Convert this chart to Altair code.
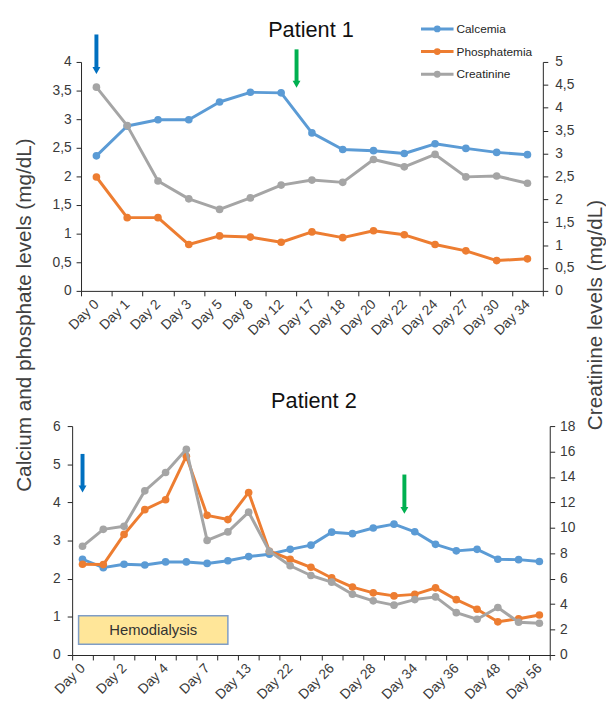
import json
import altair as alt
import pandas as pd

# ---------------- data ----------------
series_names = ["Calcemia", "Phosphatemia", "Creatinine"]
series_colors = ["#5B9BD5", "#ED7D31", "#A5A5A5"]

# Patient 1
p1_days = ["Day 0", "Day 1", "Day 2", "Day 3", "Day 5", "Day 8", "Day 12",
           "Day 17", "Day 18", "Day 20", "Day 22", "Day 24", "Day 27", "Day 30", "Day 34"]
p1_calcemia = [2.36, 2.88, 2.99, 2.99, 3.30, 3.47, 3.46, 2.76, 2.47, 2.45, 2.40, 2.57, 2.49, 2.42, 2.38]
p1_phosphatemia = [1.99, 1.28, 1.28, 0.81, 0.96, 0.94, 0.85, 1.03, 0.93, 1.05, 0.98, 0.81, 0.70, 0.53, 0.56]
p1_creatinine = [4.45, 3.61, 2.40, 2.01, 1.78, 2.03, 2.31, 2.42, 2.37, 2.87, 2.71, 2.98, 2.49, 2.51, 2.35]
p1_left_ticks = [0, 0.5, 1, 1.5, 2, 2.5, 3, 3.5, 4]
p1_right_ticks = [0, 0.5, 1, 1.5, 2, 2.5, 3, 3.5, 4, 4.5, 5]

# Patient 2 (23 measurements, every other one labelled on the axis)
p2_day_labels = ["Day 0", "Day 2", "Day 4", "Day 7", "Day 13", "Day 22",
                 "Day 26", "Day 28", "Day 34", "Day 36", "Day 48", "Day 56"]
p2_calcemia = [2.51, 2.29, 2.38, 2.36, 2.44, 2.44, 2.40, 2.47, 2.58, 2.64, 2.77, 2.88,
               3.22, 3.18, 3.33, 3.43, 3.23, 2.90, 2.73, 2.77, 2.51, 2.50, 2.45]
p2_phosphatemia = [2.38, 2.37, 3.16, 3.81, 4.07, 5.21, 3.66, 3.55, 4.26, 2.72, 2.51, 2.30,
                   2.02, 1.78, 1.63, 1.55, 1.59, 1.76, 1.45, 1.20, 0.87, 0.95, 1.05]
p2_creatinine = [8.55, 9.88, 10.12, 12.91, 14.35, 16.17, 9.01, 9.68, 11.23, 8.16, 7.02, 6.25,
                 5.73, 4.78, 4.26, 3.92, 4.36, 4.57, 3.33, 2.81, 3.74, 2.58, 2.50]
p2_left_ticks = [0, 1, 2, 3, 4, 5, 6]
p2_right_ticks = [0, 2, 4, 6, 8, 10, 12, 14, 16, 18]

# arrows (x = measurement index, y on the left axis)
arrow_colors = ["#0070C0", "#00B050"]
p1_arrow_x = [0, 6.5]
p1_arrow_top = [4.48, 4.22]
p1_arrow_tip = [3.79, 3.55]
p2_arrow_x = [0, 15.5]
p2_arrow_top = [5.27, 4.73]
p2_arrow_tip = [4.26, 3.70]

# hemodialysis box (patient 2, left axis units)
hemo_label = "Hemodialysis"
hemo_x = [-0.19, 7.0]
hemo_y = [0.28, 1.03]

panel_titles = ["Patient 1", "Patient 2"]
left_axis_title = "Calcium and phosphate levels (mg/dL)"
right_axis_title = "Creatinine levels (mg/dL)"

FONT = "Liberation Sans"
comma_expr = "replace(format(datum.value, ''), '.', ',')"

color_scale = alt.Scale(domain=series_names, range=series_colors)

legend_path = ("M-1.5,0L1.5,0M0.18,0A0.18,0.18,0,1,1,-0.18,0"
               "A0.18,0.18,0,1,1,0.18,0Z")


def long_df(calc, phos, creat):
    rows = []
    for name, vals in zip(series_names, [calc, phos, creat]):
        for i, v in enumerate(vals):
            rows.append({"i": i, "series": name, "value": v})
    return pd.DataFrame(rows)


def make_panel(n, label_expr, calc, phos, creat, left_dom, left_ticks, left_pad,
               right_dom, right_ticks, right_pad, width, xrange, left_offset,
               ax, atop, atip, title, title_xy, legend, with_titles,
               extra=None):
    df = long_df(calc, phos, creat)
    step = (xrange[1] - xrange[0]) / n
    xs = alt.Scale(domain=[-0.5, n - 0.5], range=xrange, nice=False, zero=False)
    x_axis = alt.Axis(values=[k - 0.5 for k in range(n + 1)], labelExpr=label_expr,
                      labelOffset=step / 2, labelAngle=-45, labelAlign="right",
                      labelBaseline="middle", labelPadding=6, labelOverlap=False,
                      labelFlush=False, title=None, tickSize=5)
    yl = alt.Scale(domain=left_dom, nice=False, zero=True)
    yr = alt.Scale(domain=right_dom, nice=False, zero=True)
    left_kw = dict(values=left_ticks, labelExpr=comma_expr, offset=left_offset,
                   labelPadding=left_pad, tickSize=5, labelOverlap=False)
    right_kw = dict(values=right_ticks, labelExpr=comma_expr, orient="right",
                    labelPadding=right_pad, tickSize=5, labelOverlap=False)
    if with_titles:
        left_kw.update(title=left_axis_title, titleY=256, titlePadding=17.5)
        right_kw.update(title=right_axis_title, titleY=256, titleAngle=-90,
                        titleBaseline="top", titlePadding=11)
    else:
        left_kw.update(title=None)
        right_kw.update(title=None)
    y_left_axis = alt.Axis(**left_kw)
    y_right_axis = alt.Axis(**right_kw)

    def X(field):
        return alt.X(field, scale=xs, axis=x_axis)

    def YL(field):
        return alt.Y(field, scale=yl, axis=y_left_axis)

    def YR(field):
        return alt.Y(field, scale=yr, axis=y_right_axis)

    dl = df[df.series != "Creatinine"]
    dr = df[df.series == "Creatinine"]

    line_l = alt.Chart(dl).mark_line(strokeWidth=3, strokeJoin="round").encode(
        x=X("i:Q"), y=YL("value:Q"),
        color=alt.Color("series:N", scale=color_scale, legend=legend),
    )
    pts_l = alt.Chart(dl).mark_circle(size=60, opacity=1).encode(
        x=X("i:Q"), y=YL("value:Q"),
        color=alt.Color("series:N", scale=color_scale, legend=legend),
    )
    title_mark = alt.Chart(pd.DataFrame({"t": [title]})).mark_text(
        fontSize=22, font=FONT, color="#111111", align="center", baseline="alphabetic"
    ).encode(text="t:N", x=alt.value(title_xy[0]), y=alt.value(title_xy[1]))

    layers_l = [title_mark]
    if extra is not None:
        layers_l += extra(X, YL)
    layers_l += [line_l, pts_l]
    for k in range(len(ax)):
        adf = pd.DataFrame({"x": [ax[k]], "top": [atop[k]], "tip": [atip[k]]})
        layers_l.append(alt.Chart(adf).mark_rule(strokeWidth=4, color=arrow_colors[k],
                                                 y2Offset=-5).encode(
            x=X("x:Q"), y=YL("top:Q"), y2="tip:Q"))
        layers_l.append(alt.Chart(adf).mark_point(shape="triangle-down", filled=True,
                                                  size=64, opacity=1,
                                                  color=arrow_colors[k],
                                                  yOffset=-3.5).encode(
            x=X("x:Q"), y=YL("tip:Q")))

    line_r = alt.Chart(dr).mark_line(strokeWidth=3, strokeJoin="round").encode(
        x=X("i:Q"), y=YR("value:Q"),
        color=alt.Color("series:N", scale=color_scale, legend=legend),
    )
    pts_r = alt.Chart(dr).mark_circle(size=60, opacity=1).encode(
        x=X("i:Q"), y=YR("value:Q"),
        color=alt.Color("series:N", scale=color_scale, legend=legend),
    )
    left = alt.layer(*layers_l)
    right = alt.layer(line_r, pts_r)
    return alt.layer(left, right).resolve_scale(y="independent").properties(
        width=width, height=232)


def hemo_layers(X, YL):
    bdf = pd.DataFrame({"x0": [hemo_x[0]], "x1": [hemo_x[1]],
                        "y0": [hemo_y[0]], "y1": [hemo_y[1]],
                        "xm": [(hemo_x[0] + hemo_x[1]) / 2],
                        "ym": [(hemo_y[0] + hemo_y[1]) / 2],
                        "label": [hemo_label]})
    rect = alt.Chart(bdf).mark_rect(fill="#FFE699", stroke="#7F9DC6", strokeWidth=1.5).encode(
        x=X("x0:Q"), x2="x1:Q", y=YL("y0:Q"), y2="y1:Q")
    txt = alt.Chart(bdf).mark_text(fontSize=15, font=FONT, color="#333333",
                                   baseline="middle").encode(
        x=X("xm:Q"), y=YL("ym:Q"), text="label:N")
    return [rect, txt]


p1_expr = ("(datum.value + 0.5) < %d ? %s[datum.value + 0.5] : ''"
           % (len(p1_days), json.dumps(p1_days)))
p2_n = len(p2_calcemia)
p2_expr = ("(datum.value + 0.5) < %d && (datum.value + 0.5) %% 2 == 0 ? %s[(datum.value + 0.5) / 2] : ''"
           % (p2_n, json.dumps(p2_day_labels)))

legend = alt.Legend(title=None, orient="none", legendX=357.5, legendY=-46,
                    direction="vertical", symbolType=legend_path, symbolSize=484,
                    symbolStrokeWidth=3, labelOffset=7, rowPadding=2, padding=0,
                    labelFont=FONT, labelFontSize=12, labelColor="#262626")

top = make_panel(len(p1_days), p1_expr, p1_calcemia, p1_phosphatemia, p1_creatinine,
                 [0, 4], p1_left_ticks, 5, [0, 5], p1_right_ticks, 7,
                 477, [9, 477], -9, p1_arrow_x, p1_arrow_top, p1_arrow_tip,
                 panel_titles[0], (242, -25), legend, True)

bottom = make_panel(p2_n, p2_expr, p2_calcemia, p2_phosphatemia, p2_creatinine,
                    [0, 6], p2_left_ticks, 7, [0, 18], p2_right_ticks, 5,
                    484, [0, 484], 0, p2_arrow_x, p2_arrow_top, p2_arrow_tip,
                    panel_titles[1], (245, -18), None, False, extra=hemo_layers)

chart = alt.vconcat(top, bottom, spacing=137, bounds="flush").resolve_scale(
    color="independent"
).properties(
    padding={"left": 6, "top": 4, "right": 0, "bottom": 0}
).configure_view(stroke=None).configure_axis(
    domainColor="#262626", tickColor="#262626", labelColor="#3a3a3a",
    labelFont=FONT, labelFontSize=14, titleFont=FONT, titleFontSize=21,
    titleColor="#404040", titleFontWeight="normal", grid=False,
    domainWidth=1, tickWidth=1,
)

chart.save("out.html", embed_options={"renderer": "svg", "actions": False})
